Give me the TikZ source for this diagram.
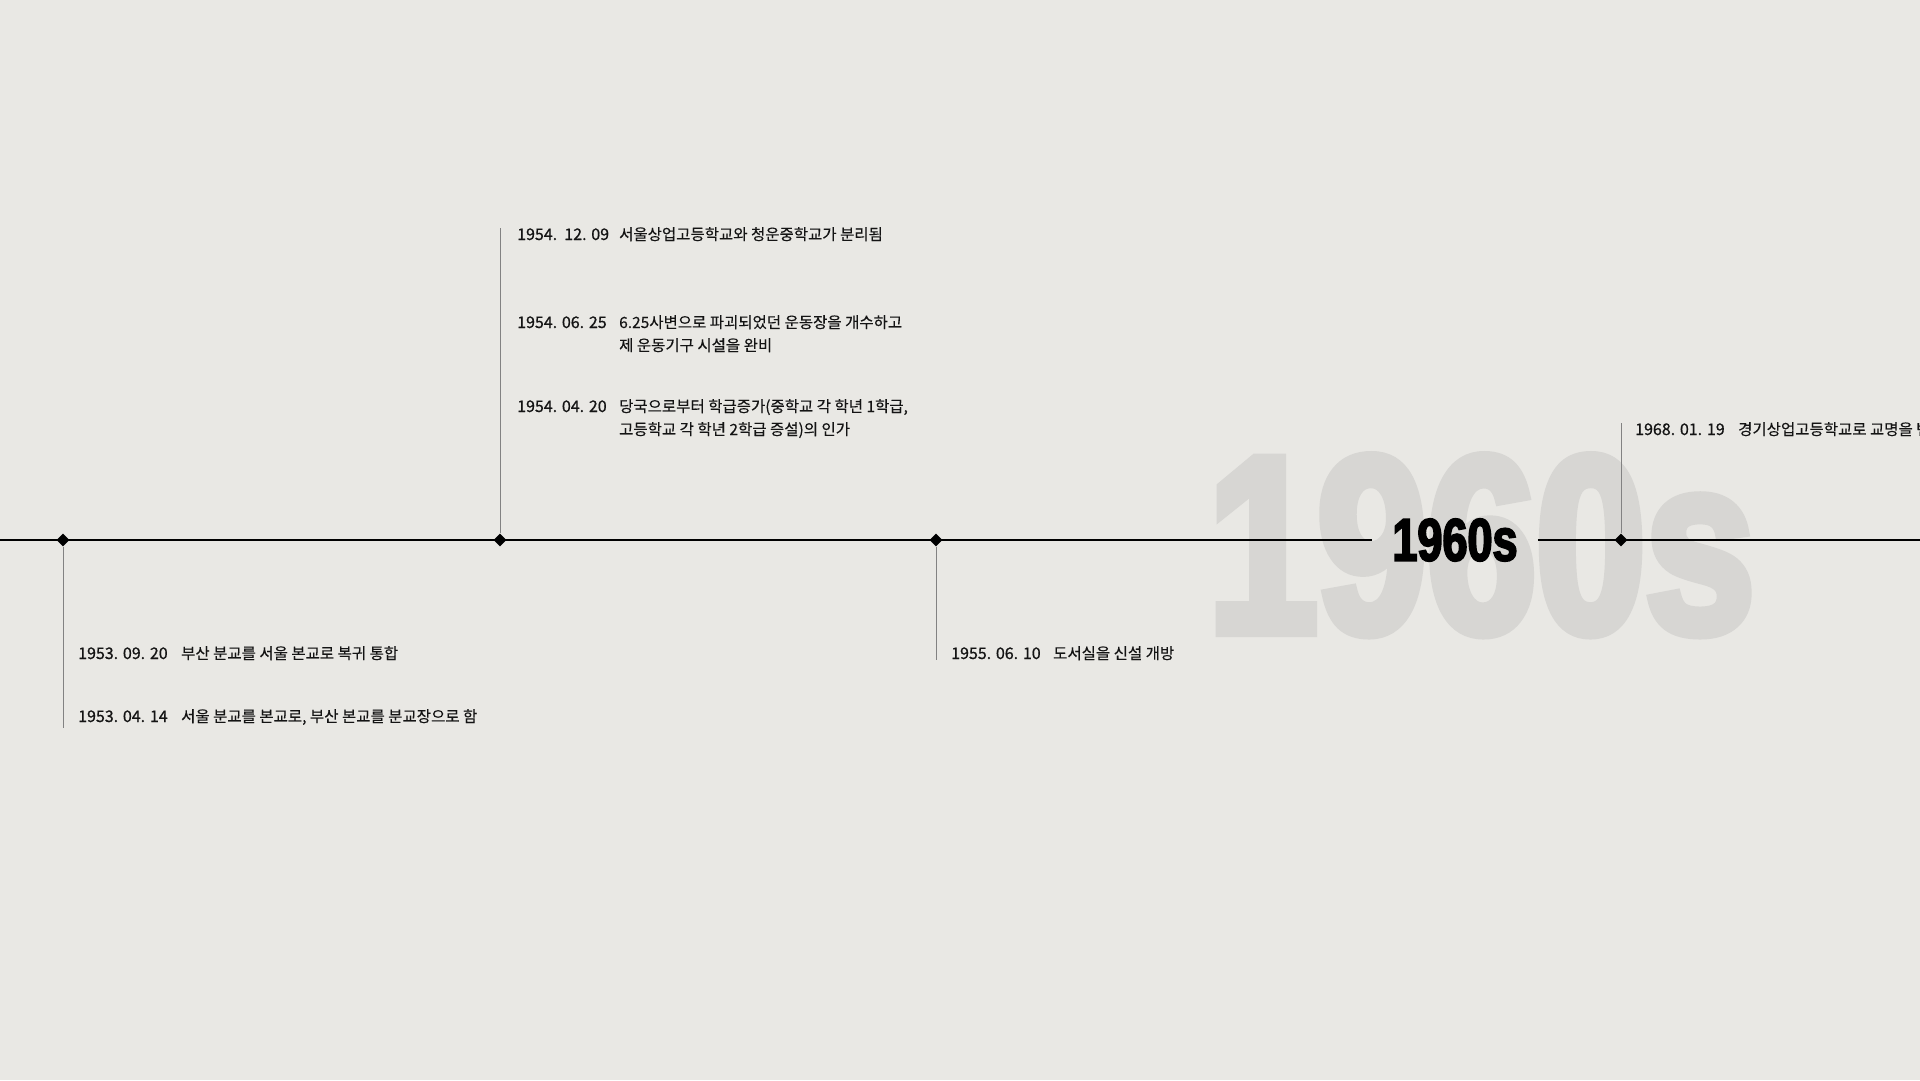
\documentclass[tikz,border=0pt]{standalone}
\usepackage{fontspec}
\usepackage{tikz}
\usetikzlibrary{shapes.geometric, positioning}
\setmainfont{Noto Sans CJK KR}[FakeBold=0.3]
\newfontfamily\eventfont{Noto Sans CJK KR}[FakeBold=0.3]
\newfontfamily\datefont{Noto Sans CJK KR}[FakeBold=0.8]
\newfontfamily\decadefont{Liberation Sans}[BoldFont={* Bold}, BoldFeatures={FakeBold=3}, FakeStretch=0.75]
\newfontfamily\ghostfont{Liberation Sans}[BoldFont={* Bold}, BoldFeatures={FakeBold=4}, FakeStretch=0.78]
\definecolor{paperbg}{RGB}{233,232,228}
\definecolor{ghostgray}{RGB}{215,214,211}
\definecolor{stemgray}{RGB}{130,130,130}
\definecolor{inkdark}{RGB}{20,20,20}
\tikzset{
  timeline/.style={line width=2.5pt, draw=black},
  tick/.style={diamond, fill=black, inner sep=0pt, minimum size=13pt},
  stem/.style={line width=1pt, draw=stemgray},
  datetext/.style={anchor=base west, inner sep=0pt, text=inkdark,
                   font=\datefont\fontsize{16}{20}\selectfont},
  eventtext/.style={anchor=base west, inner sep=0pt, align=left, text=inkdark,
                    font=\eventfont\fontsize{15.5}{23}\selectfont},
  decadelabel/.style={inner xsep=20pt, inner ysep=0pt, text=black,
                      font=\decadefont\bfseries\fontsize{60}{60}\selectfont},
  decadeghost/.style={anchor=base west, inner sep=0pt, text=ghostgray,
                      font=\ghostfont\bfseries\fontsize{252}{252}\selectfont},
}

\begin{document}
\begin{tikzpicture}[x=1pt, y=-1pt]
    \clip (0,0) rectangle (1920,1080);
    \fill[paperbg] (0,0) rectangle (1920,1080);
    % Big decade in the back
    \node[decadeghost] (ghost) at (1208,632) {1960s};
    % Timeline
    \coordinate (left end) at (0,540);
    \coordinate (right end) at (1920,540);
    \node[decadelabel] (decade) at (1455,540) {1960s};
    \draw[timeline] (left end) -- (decade);
    \draw[timeline] (decade) -- (right end);
    % Ticks and their stems
    \node[tick] (t1) at (63,540) {};
    \node[tick] (t2) at (500,540) {};
    \node[tick] (t3) at (936,540) {};
    \node[tick] (t4) at (1621,540) {};
    \coordinate (s1) at (63,728);
    \coordinate (s2) at (500,228);
    \coordinate (s3) at (936,660);
    \coordinate (s4) at (1621,423);
    \draw[stem] (t1) -- (s1);
    \draw[stem] (t2) -- (s2);
    \draw[stem] (t3) -- (s3);
    \draw[stem] (t4) -- (s4);
    % 1953
    \node[datetext] (d1) at (78,659) {1953. 09. 20};
    \node[eventtext] (e1) at (181,659) {부산 분교를 서울 본교로 복귀 통합};
    \node[datetext] (d2) at (78,722) {1953. 04. 14};
    \node[eventtext] (e2) at (181,722) {서울 분교를 본교로, 부산 본교를 분교장으로 함};
    % 1954
    \node[datetext] (d3) at (517,240) {1954.~~12. 09};
    \node[eventtext] (e3) at (619,240) {서울상업고등학교와 청운중학교가 분리됨};
    \node[datetext] (d4) at (517,328) {1954. 06. 25};
    \node[eventtext] (e4) at (619,351) {6.25사변으로 파괴되었던 운동장을 개수하고\\제 운동기구 시설을 완비};
    \node[datetext] (d5) at (517,412) {1954. 04. 20};
    \node[eventtext] (e5) at (619,435) {당국으로부터 학급증가(중학교 각 학년 1학급,\\고등학교 각 학년 2학급 증설)의 인가};
    % 1955
    \node[datetext] (d6) at (951,659) {1955. 06. 10};
    \node[eventtext] (e6) at (1053,659) {도서실을 신설 개방};
    % 1968
    \node[datetext] (d7) at (1635,435) {1968. 01. 19};
    \node[eventtext] (e7) at (1738,435) {경기상업고등학교로 교명을 변경};
\end{tikzpicture}
\end{document}
